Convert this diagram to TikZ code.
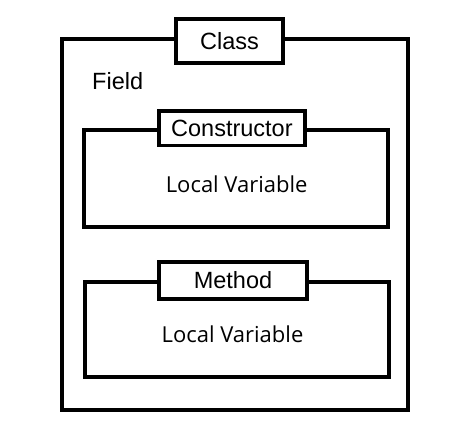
\documentclass[tikz,border=0pt]{standalone}
\usepackage{fontspec}
\setmainfont{Liberation Sans}
\newfontfamily\lvfont{Open Sans}
\begin{document}
\begin{tikzpicture}[x=1pt,y=-1pt,
  frame/.style={draw=black,line width=3.8pt,rectangle,inner sep=0pt,fill=white},
  lbl/.style={font=\fontsize{23.5}{26}\selectfont},
  lv/.style={font=\lvfont\fontsize{22}{26}\selectfont}]
\useasboundingbox (0,0) rectangle (461,422);
\node[frame,minimum width=346pt,minimum height=370.4pt] (outer) at (235,224.5) {};
\node[frame,minimum width=107pt,minimum height=44pt] (class) at (229.5,41) {};
\node[lbl] (classt) at (229.5,41) {Class};
\node[lbl,anchor=base] (field) at (117.7,90) {Field};
\node[frame,minimum width=304pt,minimum height=96.7pt] (cbox) at (236,178.4) {};
\node[frame,minimum width=146.3pt,minimum height=34.2pt] (clab) at (231.9,128.4) {};
\node[lbl] (clabt) at (231.9,128.4) {Constructor};
\node[lv,anchor=base] (lv1) at (236.7,192.3) {Local Variable};
\node[frame,minimum width=303.4pt,minimum height=95pt] (mbox) at (237,329.5) {};
\node[frame,minimum width=147.4pt,minimum height=36.7pt] (mlab) at (233,280.4) {};
\node[lbl] (mlabt) at (233,280.4) {Method};
\node[lv,anchor=base] (lv2) at (232.5,342.3) {Local Variable};
\end{tikzpicture}
\end{document}
